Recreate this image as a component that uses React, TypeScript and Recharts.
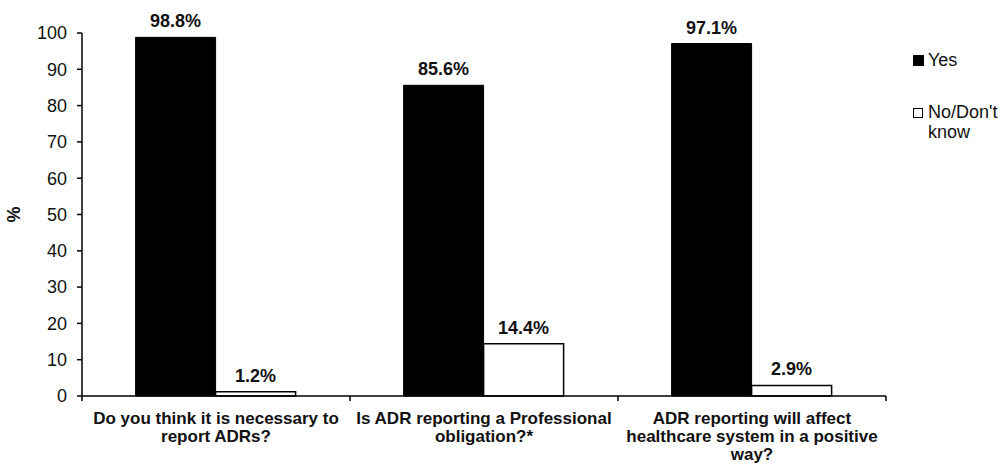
import React from "react";
import { BarChart, Bar, XAxis, YAxis, LabelList, Label } from "recharts";

const categories = [
  "Do you think it is necessary to\nreport ADRs?",
  "Is ADR reporting a Professional\nobligation?*",
  "ADR reporting will affect\nhealthcare system in a positive\nway?",
];
const yesValues = [98.8, 85.6, 97.1];
const noValues = [1.2, 14.4, 2.9];
const yTicks = [0, 10, 20, 30, 40, 50, 60, 70, 80, 90, 100];

const data = categories.map((c, i) => ({ name: c, yes: yesValues[i], no: noValues[i] }));

const FONT = "'Liberation Sans', Arial, sans-serif";
const BAND = (886 - 82) / categories.length;

// category label with boundary tick marks (ticks sit between categories, not at centres)
function CategoryTick(props: any) {
  const { x, y, payload, index } = props;
  const lines = String(payload.value).split("\n");
  return (
    <g>
      <line x1={x + BAND / 2} y1={y - 8} x2={x + BAND / 2} y2={y - 3} stroke="#000" strokeWidth={1.5} />
      {index === 0 && (
        <line x1={x - BAND / 2} y1={y - 8} x2={x - BAND / 2} y2={y - 3} stroke="#000" strokeWidth={1.5} />
      )}
      <text x={x} y={y + 20} textAnchor="middle" fontFamily={FONT} fontSize={17} fontWeight="bold" fill="#111">
        {lines.map((l, i) => (
          <tspan key={i} x={x} dy={i === 0 ? 0 : 18}>
            {l}
          </tspan>
        ))}
      </text>
    </g>
  );
}

const labelStyle = { fontFamily: FONT, fontSize: 18, fontWeight: "bold", fill: "#111" };

export default function App() {
  return (
    <div style={{ position: "absolute", left: 0, top: 0, width: 1003, height: 466, background: "#fff" }}>
      <BarChart
        width={1003}
        height={466}
        data={data}
        margin={{ top: 33, right: 117, bottom: 0, left: 0 }}
        barCategoryGap="20%"
        barGap={0}
      >
        <XAxis
          dataKey="name"
          tick={<CategoryTick />}
          tickLine={false}
          axisLine={{ stroke: "#000", strokeWidth: 1.5 }}
          interval={0}
          height={70}
        />
        <YAxis
          domain={[0, 100]}
          ticks={yTicks}
          width={82}
          axisLine={{ stroke: "#000", strokeWidth: 1.5 }}
          tickLine={{ stroke: "#000", strokeWidth: 1.5 }}
          tickSize={5}
          tickMargin={10}
          tick={{ fontFamily: FONT, fontSize: 18, fill: "#111" }}
        >
          <Label
            value="%"
            angle={-90}
            position="insideLeft"
            offset={14}
            textAnchor="middle"
            style={{ fontFamily: FONT, fontSize: 18, fontWeight: "bold", fill: "#111", textAnchor: "middle" }}
          />
        </YAxis>
        <Bar dataKey="yes" name="Yes" fill="#000" stroke="#000" isAnimationActive={false}>
          <LabelList dataKey="yes" position="top" offset={10} formatter={(v: any) => `${v}%`} style={labelStyle} />
        </Bar>
        <Bar dataKey="no" name="No/Don't know" fill="#fff" stroke="#000" strokeWidth={1.5} isAnimationActive={false}>
          <LabelList dataKey="no" position="top" offset={10} formatter={(v: any) => `${v}%`} style={labelStyle} />
        </Bar>
      </BarChart>
      <div style={{ position: "absolute", left: 913, top: 50, fontFamily: FONT, fontSize: 18, color: "#111", lineHeight: "20px" }}>
        <div style={{ display: "flex", alignItems: "center" }}>
          <span style={{ width: 9, height: 9, background: "#000", border: "1px solid #000", marginRight: 4 }} />
          Yes
        </div>
        <div style={{ display: "flex", alignItems: "flex-start", marginTop: 32 }}>
          <span style={{ width: 8, height: 8, background: "#fff", border: "1px solid #000", marginRight: 5, marginTop: 6 }} />
          <span>
            No/Don't
            <br />
            know
          </span>
        </div>
      </div>
    </div>
  );
}
